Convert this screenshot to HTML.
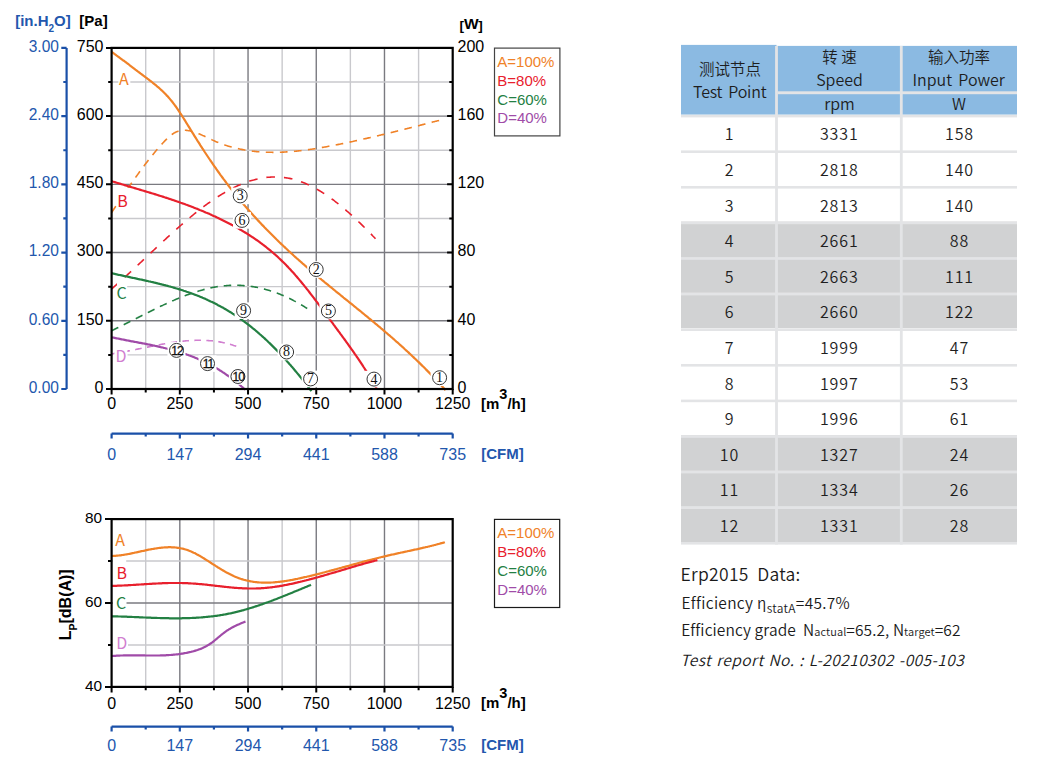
<!DOCTYPE html>
<html><head><meta charset="utf-8"><title>Fan performance curves</title>
<style>
html,body{margin:0;padding:0;background:#fff;}
body{width:1043px;height:762px;overflow:hidden;}
svg{display:block;}
</style></head><body>
<svg width="1043" height="762" viewBox="0 0 1043 762">
<rect width="1043" height="762" fill="#fff"/>
<line x1="145.71" y1="47.9" x2="145.71" y2="389" stroke="#c9c9cd" stroke-width="1.4"/>
<line x1="179.82" y1="47.9" x2="179.82" y2="389" stroke="#7a7a80" stroke-width="1.4"/>
<line x1="213.93" y1="47.9" x2="213.93" y2="389" stroke="#c9c9cd" stroke-width="1.4"/>
<line x1="248.04" y1="47.9" x2="248.04" y2="389" stroke="#7a7a80" stroke-width="1.4"/>
<line x1="282.15" y1="47.9" x2="282.15" y2="389" stroke="#c9c9cd" stroke-width="1.4"/>
<line x1="316.26" y1="47.9" x2="316.26" y2="389" stroke="#7a7a80" stroke-width="1.4"/>
<line x1="350.37" y1="47.9" x2="350.37" y2="389" stroke="#c9c9cd" stroke-width="1.4"/>
<line x1="384.48" y1="47.9" x2="384.48" y2="389" stroke="#7a7a80" stroke-width="1.4"/>
<line x1="418.59" y1="47.9" x2="418.59" y2="389" stroke="#c9c9cd" stroke-width="1.4"/>
<line x1="111.6" y1="354.89" x2="452.7" y2="354.89" stroke="#c9c9cd" stroke-width="1.4"/>
<line x1="111.6" y1="320.78" x2="452.7" y2="320.78" stroke="#7a7a80" stroke-width="1.4"/>
<line x1="111.6" y1="286.67" x2="452.7" y2="286.67" stroke="#c9c9cd" stroke-width="1.4"/>
<line x1="111.6" y1="252.56" x2="452.7" y2="252.56" stroke="#7a7a80" stroke-width="1.4"/>
<line x1="111.6" y1="218.45" x2="452.7" y2="218.45" stroke="#c9c9cd" stroke-width="1.4"/>
<line x1="111.6" y1="184.34" x2="452.7" y2="184.34" stroke="#7a7a80" stroke-width="1.4"/>
<line x1="111.6" y1="150.23" x2="452.7" y2="150.23" stroke="#c9c9cd" stroke-width="1.4"/>
<line x1="111.6" y1="116.12" x2="452.7" y2="116.12" stroke="#7a7a80" stroke-width="1.4"/>
<line x1="111.6" y1="82.01" x2="452.7" y2="82.01" stroke="#c9c9cd" stroke-width="1.4"/>
<rect x="118.6" y="80.51" width="11.6" height="3" fill="#fff"/>
<rect x="112.8" y="285.17" width="14.3" height="3" fill="#fff"/>
<rect x="112.8" y="353.39" width="14.5" height="3" fill="#fff"/>
<g fill="none" stroke-width="2.2" stroke-linecap="butt" stroke-linejoin="round">
<g stroke-width="1.6">
<path d="M111.6 212.5L112.6 211.0L113.6 209.5L114.6 208.0L115.6 206.5L116.6 205.0L117.6 203.5L118.6 202.0L119.6 200.5L120.6 199.0L121.6 197.5L122.6 196.1L123.6 194.6L124.6 193.1L125.6 191.7L126.6 190.2L127.6 188.8L128.6 187.3L129.6 185.9L130.6 184.4L131.6 183.0L132.6 181.6L133.6 180.2L134.6 178.8L135.6 177.4L136.6 176.0L137.6 174.6L138.6 173.2L139.6 171.8L140.6 170.5L141.6 169.1L142.6 167.8L143.6 166.5L144.6 165.1L145.6 163.8L146.6 162.5L147.6 161.2L148.6 159.9L149.6 158.7L150.6 157.4L151.6 156.2L152.6 154.9L153.6 153.7L154.6 152.5L155.6 151.3L156.6 150.1L157.6 148.9L158.6 147.8L159.6 146.6L160.6 145.5L161.6 144.4L162.6 143.3L163.6 142.2L164.6 141.1L165.6 140.1L166.6 139.1L167.6 138.1L168.6 137.2L169.6 136.3L170.6 135.5L171.6 134.7L172.6 134.0L173.6 133.3L174.6 132.8L175.6 132.2L176.6 131.8L177.6 131.4L178.6 131.0L179.6 130.8L180.6 130.6L181.6 130.4L182.6 130.3L183.6 130.3L184.6 130.3L185.6 130.3L186.6 130.4L187.6 130.5L188.6 130.7L189.6 130.8L190.6 131.1L191.6 131.3L192.6 131.6L193.6 131.9L194.6 132.2L195.6 132.5L196.6 132.9L197.6 133.3L198.6 133.7L199.6 134.1L200.6 134.5L201.6 134.9L202.6 135.4L203.6 135.8L204.6 136.3L205.6 136.8L206.6 137.2L207.6 137.7L208.6 138.2L209.6 138.7L210.6 139.2L211.6 139.6L212.6 140.1L213.6 140.6L214.6 141.0L215.6 141.5L216.6 141.9L217.6 142.3L218.6 142.7L219.6 143.1L220.6 143.5L221.6 143.9L222.6 144.3L223.6 144.6L224.6 144.9L225.6 145.3L226.6 145.6L227.6 145.9L228.6 146.2L229.6 146.5L230.6 146.8L231.6 147.1L232.6 147.4L233.6 147.6L234.6 147.9L235.6 148.1L236.6 148.3L237.6 148.6L238.6 148.8L239.6 149.0L240.6 149.2L241.6 149.4L242.6 149.6L243.6 149.8L244.6 150.0L245.6 150.1L246.6 150.3L247.6 150.5L248.6 150.6L249.6 150.8L250.6 150.9L251.6 151.0L252.6 151.2L253.6 151.3L254.6 151.4L255.6 151.5L256.6 151.6L257.6 151.7L258.6 151.8L259.6 151.8L260.6 151.9L261.6 152.0L262.6 152.0L263.6 152.1L264.6 152.1L265.6 152.2L266.6 152.2L267.6 152.3L268.6 152.3L269.6 152.3L270.6 152.3L271.6 152.3L272.6 152.4L273.6 152.4L274.6 152.3L275.6 152.3L276.6 152.3L277.6 152.3L278.6 152.3L279.6 152.3L280.6 152.2L281.6 152.2L282.6 152.1L283.6 152.1L284.6 152.0L285.6 152.0L286.6 151.9L287.6 151.9L288.6 151.8L289.6 151.7L290.6 151.6L291.6 151.6L292.6 151.5L293.6 151.4L294.6 151.3L295.6 151.2L296.6 151.1L297.6 151.0L298.6 150.9L299.6 150.8L300.6 150.7L301.6 150.5L302.6 150.4L303.6 150.3L304.6 150.2L305.6 150.0L306.6 149.9L307.6 149.8L308.6 149.6L309.6 149.5L310.6 149.3L311.6 149.2L312.6 149.0L313.6 148.9L314.6 148.7L315.6 148.6L316.6 148.4L317.6 148.2L318.6 148.1L319.6 147.9L320.6 147.7L321.6 147.6L322.6 147.4L323.6 147.2L324.6 147.0L325.6 146.9L326.6 146.7L327.6 146.5L328.6 146.3L329.6 146.1L330.6 145.9L331.6 145.7L332.6 145.5L333.6 145.4L334.6 145.2L335.6 145.0L336.6 144.8L337.6 144.6L338.6 144.4L339.6 144.2L340.6 144.0L341.6 143.8L342.6 143.6L343.6 143.4L344.6 143.2L345.6 142.9L346.6 142.7L347.6 142.5L348.6 142.3L349.6 142.1L350.6 141.9L351.6 141.7L352.6 141.5L353.6 141.2L354.6 141.0L355.6 140.8L356.6 140.6L357.6 140.4L358.6 140.2L359.6 139.9L360.6 139.7L361.6 139.5L362.6 139.3L363.6 139.0L364.6 138.8L365.6 138.6L366.6 138.4L367.6 138.1L368.6 137.9L369.6 137.7L370.6 137.4L371.6 137.2L372.6 137.0L373.6 136.7L374.6 136.5L375.6 136.3L376.6 136.0L377.6 135.8L378.6 135.6L379.6 135.3L380.6 135.1L381.6 134.8L382.6 134.6L383.6 134.4L384.6 134.1L385.6 133.9L386.6 133.6L387.6 133.4L388.6 133.1L389.6 132.9L390.6 132.7L391.6 132.4L392.6 132.2L393.6 131.9L394.6 131.7L395.6 131.4L396.6 131.2L397.6 130.9L398.6 130.7L399.6 130.4L400.6 130.2L401.6 129.9L402.6 129.7L403.6 129.4L404.6 129.2L405.6 128.9L406.6 128.7L407.6 128.4L408.6 128.2L409.6 127.9L410.6 127.7L411.6 127.4L412.6 127.2L413.6 126.9L414.6 126.7L415.6 126.4L416.6 126.2L417.6 125.9L418.6 125.7L419.6 125.4L420.6 125.1L421.6 124.9L422.6 124.6L423.6 124.4L424.6 124.1L425.6 123.9L426.6 123.6L427.6 123.4L428.6 123.1L429.6 122.9L430.6 122.6L431.6 122.4L432.6 122.1L433.6 121.8L434.6 121.6L435.6 121.3L436.6 121.1L437.6 120.8L438.6 120.6L439.6 120.3L440.6 120.1L441.6 119.8L442.2 119.7" stroke="#F08228" stroke-dasharray="7.7 6.4"/>
<path d="M111.6 288.9L112.6 288.1L113.6 287.2L114.6 286.3L115.6 285.4L116.6 284.6L117.6 283.7L118.6 282.8L119.6 281.9L120.6 281.0L121.6 280.1L122.6 279.2L123.6 278.3L124.6 277.4L125.6 276.5L126.6 275.5L127.6 274.6L128.6 273.7L129.6 272.8L130.6 271.8L131.6 270.9L132.6 270.0L133.6 269.1L134.6 268.1L135.6 267.2L136.6 266.3L137.6 265.3L138.6 264.4L139.6 263.4L140.6 262.5L141.6 261.6L142.6 260.6L143.6 259.7L144.6 258.7L145.6 257.8L146.6 256.9L147.6 255.9L148.6 255.0L149.6 254.0L150.6 253.1L151.6 252.1L152.6 251.2L153.6 250.3L154.6 249.3L155.6 248.4L156.6 247.4L157.6 246.5L158.6 245.6L159.6 244.6L160.6 243.7L161.6 242.8L162.6 241.8L163.6 240.9L164.6 240.0L165.6 239.1L166.6 238.1L167.6 237.2L168.6 236.3L169.6 235.4L170.6 234.5L171.6 233.6L172.6 232.7L173.6 231.8L174.6 230.9L175.6 230.0L176.6 229.1L177.6 228.2L178.6 227.3L179.6 226.4L180.6 225.5L181.6 224.7L182.6 223.8L183.6 222.9L184.6 222.1L185.6 221.2L186.6 220.4L187.6 219.5L188.6 218.7L189.6 217.8L190.6 217.0L191.6 216.2L192.6 215.3L193.6 214.5L194.6 213.7L195.6 212.9L196.6 212.1L197.6 211.3L198.6 210.5L199.6 209.7L200.6 209.0L201.6 208.2L202.6 207.4L203.6 206.7L204.6 205.9L205.6 205.2L206.6 204.5L207.6 203.7L208.6 203.0L209.6 202.3L210.6 201.6L211.6 200.9L212.6 200.2L213.6 199.5L214.6 198.8L215.6 198.2L216.6 197.5L217.6 196.9L218.6 196.2L219.6 195.6L220.6 195.0L221.6 194.4L222.6 193.7L223.6 193.2L224.6 192.6L225.6 192.0L226.6 191.4L227.6 190.9L228.6 190.3L229.6 189.8L230.6 189.2L231.6 188.7L232.6 188.2L233.6 187.7L234.6 187.2L235.6 186.7L236.6 186.3L237.6 185.8L238.6 185.3L239.6 184.9L240.6 184.5L241.6 184.1L242.6 183.7L243.6 183.3L244.6 182.9L245.6 182.5L246.6 182.2L247.6 181.8L248.6 181.5L249.6 181.1L250.6 180.8L251.6 180.5L252.6 180.2L253.6 180.0L254.6 179.7L255.6 179.4L256.6 179.2L257.6 179.0L258.6 178.7L259.6 178.5L260.6 178.3L261.6 178.2L262.6 178.0L263.6 177.8L264.6 177.7L265.6 177.6L266.6 177.4L267.6 177.3L268.6 177.2L269.6 177.2L270.6 177.1L271.6 177.0L272.6 177.0L273.6 177.0L274.6 177.0L275.6 177.0L276.6 177.0L277.6 177.0L278.6 177.0L279.6 177.1L280.6 177.2L281.6 177.2L282.6 177.3L283.6 177.5L284.6 177.6L285.6 177.7L286.6 177.9L287.6 178.0L288.6 178.2L289.6 178.4L290.6 178.6L291.6 178.8L292.6 179.1L293.6 179.3L294.6 179.6L295.6 179.9L296.6 180.2L297.6 180.5L298.6 180.8L299.6 181.2L300.6 181.5L301.6 181.9L302.6 182.3L303.6 182.7L304.6 183.1L305.6 183.5L306.6 184.0L307.6 184.4L308.6 184.9L309.6 185.3L310.6 185.8L311.6 186.3L312.6 186.8L313.6 187.4L314.6 187.9L315.6 188.4L316.6 189.0L317.6 189.6L318.6 190.2L319.6 190.8L320.6 191.4L321.6 192.0L322.6 192.6L323.6 193.3L324.6 193.9L325.6 194.6L326.6 195.2L327.6 195.9L328.6 196.6L329.6 197.3L330.6 198.0L331.6 198.8L332.6 199.5L333.6 200.2L334.6 201.0L335.6 201.8L336.6 202.5L337.6 203.3L338.6 204.1L339.6 204.9L340.6 205.7L341.6 206.5L342.6 207.4L343.6 208.2L344.6 209.0L345.6 209.9L346.6 210.8L347.6 211.6L348.6 212.5L349.6 213.4L350.6 214.3L351.6 215.2L352.6 216.1L353.6 217.0L354.6 217.9L355.6 218.9L356.6 219.8L357.6 220.8L358.6 221.7L359.6 222.7L360.6 223.6L361.6 224.6L362.6 225.6L363.6 226.6L364.6 227.5L365.6 228.5L366.6 229.5L367.6 230.5L368.6 231.6L369.6 232.6L370.6 233.6L371.6 234.6L372.6 235.7L373.6 236.7L374.6 237.7L375.5 238.7" stroke="#E8202D" stroke-dasharray="8.6 9"/>
<path d="M111.6 330.7L112.6 330.2L113.6 329.8L114.6 329.3L115.6 328.8L116.6 328.3L117.6 327.8L118.6 327.3L119.6 326.8L120.6 326.3L121.6 325.8L122.6 325.3L123.6 324.8L124.6 324.3L125.6 323.8L126.6 323.3L127.6 322.8L128.6 322.3L129.6 321.8L130.6 321.3L131.6 320.8L132.6 320.3L133.6 319.8L134.6 319.3L135.6 318.8L136.6 318.3L137.6 317.8L138.6 317.2L139.6 316.7L140.6 316.2L141.6 315.7L142.6 315.2L143.6 314.7L144.6 314.2L145.6 313.7L146.6 313.2L147.6 312.7L148.6 312.2L149.6 311.7L150.6 311.2L151.6 310.7L152.6 310.2L153.6 309.7L154.6 309.2L155.6 308.7L156.6 308.2L157.6 307.8L158.6 307.3L159.6 306.8L160.6 306.3L161.6 305.8L162.6 305.4L163.6 304.9L164.6 304.4L165.6 304.0L166.6 303.5L167.6 303.0L168.6 302.6L169.6 302.1L170.6 301.7L171.6 301.3L172.6 300.8L173.6 300.4L174.6 299.9L175.6 299.5L176.6 299.1L177.6 298.7L178.6 298.3L179.6 297.9L180.6 297.4L181.6 297.0L182.6 296.6L183.6 296.3L184.6 295.9L185.6 295.5L186.6 295.1L187.6 294.7L188.6 294.4L189.6 294.0L190.6 293.7L191.6 293.3L192.6 293.0L193.6 292.6L194.6 292.3L195.6 292.0L196.6 291.7L197.6 291.4L198.6 291.0L199.6 290.8L200.6 290.5L201.6 290.2L202.6 289.9L203.6 289.6L204.6 289.4L205.6 289.1L206.6 288.9L207.6 288.6L208.6 288.4L209.6 288.2L210.6 287.9L211.6 287.7L212.6 287.5L213.6 287.3L214.6 287.1L215.6 287.0L216.6 286.8L217.6 286.6L218.6 286.5L219.6 286.3L220.6 286.2L221.6 286.1L222.6 286.0L223.6 285.9L224.6 285.8L225.6 285.7L226.6 285.6L227.6 285.5L228.6 285.5L229.6 285.4L230.6 285.4L231.6 285.3L232.6 285.3L233.6 285.3L234.6 285.3L235.6 285.3L236.6 285.3L237.6 285.3L238.6 285.3L239.6 285.4L240.6 285.4L241.6 285.5L242.6 285.5L243.6 285.6L244.6 285.7L245.6 285.8L246.6 285.9L247.6 286.0L248.6 286.1L249.6 286.2L250.6 286.3L251.6 286.5L252.6 286.6L253.6 286.8L254.6 287.0L255.6 287.1L256.6 287.3L257.6 287.5L258.6 287.7L259.6 287.9L260.6 288.2L261.6 288.4L262.6 288.6L263.6 288.9L264.6 289.1L265.6 289.4L266.6 289.7L267.6 290.0L268.6 290.3L269.6 290.6L270.6 290.9L271.6 291.2L272.6 291.5L273.6 291.9L274.6 292.2L275.6 292.6L276.6 293.0L277.6 293.3L278.6 293.7L279.6 294.1L280.6 294.5L281.6 294.9L282.6 295.3L283.6 295.8L284.6 296.2L285.6 296.7L286.6 297.1L287.6 297.6L288.6 298.1L289.6 298.5L290.6 299.0L291.6 299.5L292.6 300.0L293.6 300.6L294.6 301.1L295.6 301.6L296.6 302.2L297.6 302.7L298.6 303.3L299.6 303.9L300.6 304.4L301.6 305.0L302.6 305.6L303.6 306.2L304.6 306.9L305.6 307.5L306.6 308.1L307.2 308.5" stroke="#238043" stroke-dasharray="7.5 6"/>
<path d="M111.6 353.9L112.6 353.7L113.6 353.6L114.6 353.4L115.6 353.3L116.6 353.1L117.6 352.9L118.6 352.8L119.6 352.6L120.6 352.4L121.6 352.3L122.6 352.1L123.6 351.9L124.6 351.7L125.6 351.5L126.6 351.3L127.6 351.1L128.6 350.9L129.6 350.8L130.6 350.6L131.6 350.4L132.6 350.2L133.6 350.0L134.6 349.8L135.6 349.6L136.6 349.3L137.6 349.1L138.6 348.9L139.6 348.7L140.6 348.5L141.6 348.3L142.6 348.1L143.6 347.9L144.6 347.7L145.6 347.5L146.6 347.3L147.6 347.1L148.6 346.9L149.6 346.7L150.6 346.5L151.6 346.3L152.6 346.1L153.6 345.9L154.6 345.7L155.6 345.5L156.6 345.3L157.6 345.1L158.6 344.9L159.6 344.7L160.6 344.5L161.6 344.3L162.6 344.1L163.6 344.0L164.6 343.8L165.6 343.6L166.6 343.4L167.6 343.3L168.6 343.1L169.6 342.9L170.6 342.8L171.6 342.6L172.6 342.5L173.6 342.3L174.6 342.2L175.6 342.0L176.6 341.9L177.6 341.8L178.6 341.7L179.6 341.5L180.6 341.4L181.6 341.3L182.6 341.2L183.6 341.1L184.6 341.0L185.6 340.9L186.6 340.8L187.6 340.7L188.6 340.7L189.6 340.6L190.6 340.5L191.6 340.5L192.6 340.4L193.6 340.4L194.6 340.4L195.6 340.3L196.6 340.3L197.6 340.3L198.6 340.3L199.6 340.3L200.6 340.3L201.6 340.3L202.6 340.3L203.6 340.3L204.6 340.4L205.6 340.4L206.6 340.5L207.6 340.5L208.6 340.6L209.6 340.7L210.6 340.7L211.6 340.8L212.6 340.9L213.6 341.1L214.6 341.2L215.6 341.3L216.6 341.4L217.6 341.6L218.6 341.7L219.6 341.9L220.6 342.1L221.6 342.3L222.6 342.5L223.6 342.7L224.6 342.9L225.6 343.1L226.6 343.4L227.6 343.6L228.6 343.9L229.6 344.2L230.6 344.4L231.6 344.7L232.6 345.0L233.6 345.4L234.6 345.7L235.6 346.0L236.6 346.4L237.5 346.7" stroke="#D17FD0" stroke-dasharray="6.6 5.4"/>
</g>
<path d="M111.4 51.8L112.4 52.5L113.4 53.2L114.4 53.9L115.4 54.6L116.4 55.4L117.4 56.1L118.4 56.8L119.4 57.5L120.4 58.3L121.4 59.0L122.4 59.8L123.4 60.5L124.4 61.2L125.4 62.0L126.4 62.7L127.4 63.5L128.4 64.2L129.4 65.0L130.4 65.8L131.4 66.5L132.4 67.3L133.4 68.0L134.4 68.8L135.4 69.6L136.4 70.3L137.4 71.1L138.4 71.8L139.4 72.6L140.4 73.4L141.4 74.1L142.4 74.9L143.4 75.7L144.4 76.4L145.4 77.2L146.4 77.9L147.4 78.7L148.4 79.4L149.4 80.2L150.4 81.0L151.4 81.7L152.4 82.5L153.4 83.3L154.4 84.1L155.4 84.9L156.4 85.7L157.4 86.6L158.4 87.4L159.4 88.3L160.4 89.2L161.4 90.1L162.4 91.0L163.4 92.0L164.4 93.0L165.4 94.0L166.4 95.1L167.4 96.1L168.4 97.2L169.4 98.4L170.4 99.6L171.4 100.8L172.4 102.0L173.4 103.3L174.4 104.7L175.4 106.0L176.4 107.4L177.4 108.9L178.4 110.4L179.4 111.8L180.4 113.4L181.4 114.9L182.4 116.5L183.4 118.0L184.4 119.6L185.4 121.2L186.4 122.9L187.4 124.5L188.4 126.1L189.4 127.7L190.4 129.3L191.4 131.0L192.4 132.6L193.4 134.2L194.4 135.8L195.4 137.4L196.4 139.0L197.4 140.6L198.4 142.1L199.4 143.7L200.4 145.3L201.4 146.8L202.4 148.4L203.4 149.9L204.4 151.5L205.4 153.0L206.4 154.5L207.4 156.0L208.4 157.5L209.4 159.0L210.4 160.5L211.4 161.9L212.4 163.4L213.4 164.9L214.4 166.3L215.4 167.7L216.4 169.2L217.4 170.6L218.4 172.0L219.4 173.4L220.4 174.8L221.4 176.1L222.4 177.5L223.4 178.9L224.4 180.2L225.4 181.5L226.4 182.9L227.4 184.2L228.4 185.5L229.4 186.8L230.4 188.1L231.4 189.3L232.4 190.6L233.4 191.9L234.4 193.1L235.4 194.4L236.4 195.6L237.4 196.8L238.4 198.1L239.4 199.3L240.4 200.5L241.4 201.7L242.4 202.9L243.4 204.0L244.4 205.2L245.4 206.4L246.4 207.5L247.4 208.7L248.4 209.8L249.4 210.9L250.4 212.1L251.4 213.2L252.4 214.3L253.4 215.4L254.4 216.5L255.4 217.6L256.4 218.7L257.4 219.8L258.4 220.9L259.4 221.9L260.4 223.0L261.4 224.1L262.4 225.1L263.4 226.1L264.4 227.2L265.4 228.2L266.4 229.3L267.4 230.3L268.4 231.3L269.4 232.3L270.4 233.3L271.4 234.3L272.4 235.3L273.4 236.3L274.4 237.3L275.4 238.3L276.4 239.3L277.4 240.2L278.4 241.2L279.4 242.2L280.4 243.1L281.4 244.1L282.4 245.0L283.4 246.0L284.4 246.9L285.4 247.9L286.4 248.8L287.4 249.7L288.4 250.7L289.4 251.6L290.4 252.5L291.4 253.4L292.4 254.3L293.4 255.3L294.4 256.2L295.4 257.1L296.4 258.0L297.4 258.8L298.4 259.7L299.4 260.6L300.4 261.5L301.4 262.4L302.4 263.3L303.4 264.1L304.4 265.0L305.4 265.9L306.4 266.8L307.4 267.6L308.4 268.5L309.4 269.3L310.4 270.2L311.4 271.1L312.4 271.9L313.4 272.8L314.4 273.6L315.4 274.4L316.4 275.3L317.4 276.1L318.4 277.0L319.4 277.8L320.4 278.6L321.4 279.5L322.4 280.3L323.4 281.1L324.4 282.0L325.4 282.8L326.4 283.6L327.4 284.4L328.4 285.2L329.4 286.1L330.4 286.9L331.4 287.7L332.4 288.5L333.4 289.3L334.4 290.2L335.4 291.0L336.4 291.8L337.4 292.6L338.4 293.4L339.4 294.2L340.4 295.0L341.4 295.8L342.4 296.6L343.4 297.5L344.4 298.3L345.4 299.1L346.4 299.9L347.4 300.7L348.4 301.5L349.4 302.3L350.4 303.1L351.4 303.9L352.4 304.7L353.4 305.5L354.4 306.4L355.4 307.2L356.4 308.0L357.4 308.8L358.4 309.6L359.4 310.4L360.4 311.2L361.4 312.0L362.4 312.9L363.4 313.7L364.4 314.5L365.4 315.3L366.4 316.1L367.4 316.9L368.4 317.8L369.4 318.6L370.4 319.4L371.4 320.2L372.4 321.1L373.4 321.9L374.4 322.7L375.4 323.6L376.4 324.4L377.4 325.2L378.4 326.1L379.4 326.9L380.4 327.7L381.4 328.6L382.4 329.4L383.4 330.3L384.4 331.1L385.4 332.0L386.4 332.8L387.4 333.7L388.4 334.6L389.4 335.4L390.4 336.3L391.4 337.2L392.4 338.0L393.4 338.9L394.4 339.8L395.4 340.7L396.4 341.6L397.4 342.4L398.4 343.3L399.4 344.2L400.4 345.1L401.4 346.0L402.4 346.9L403.4 347.8L404.4 348.8L405.4 349.7L406.4 350.6L407.4 351.5L408.4 352.4L409.4 353.4L410.4 354.3L411.4 355.2L412.4 356.2L413.4 357.1L414.4 358.1L415.4 359.0L416.4 360.0L417.4 361.0L418.4 361.9L419.4 362.9L420.4 363.9L421.4 364.9L422.4 365.9L423.4 366.8L424.4 367.8L425.4 368.8L426.4 369.9L427.4 370.9L428.4 371.9L429.4 372.9L430.4 373.9L431.4 375.0L432.4 376.0L433.4 377.1L434.4 378.1L435.4 379.2L436.4 380.2L437.4 381.3L438.4 382.4L439.4 383.5L440.4 384.5L441.4 385.6L442.4 386.7L443.4 387.8L444.4 389.0L445.4 390.1L445.5 390.2" stroke="#F08228"/>
<path d="M111.6 181.1L112.6 181.5L113.6 181.8L114.6 182.1L115.6 182.4L116.6 182.7L117.6 183.0L118.6 183.3L119.6 183.6L120.6 183.9L121.6 184.2L122.6 184.5L123.6 184.8L124.6 185.1L125.6 185.4L126.6 185.7L127.6 186.0L128.6 186.3L129.6 186.6L130.6 186.9L131.6 187.2L132.6 187.5L133.6 187.8L134.6 188.1L135.6 188.4L136.6 188.7L137.6 189.0L138.6 189.3L139.6 189.6L140.6 189.9L141.6 190.2L142.6 190.5L143.6 190.8L144.6 191.1L145.6 191.4L146.6 191.7L147.6 192.0L148.6 192.3L149.6 192.6L150.6 192.9L151.6 193.2L152.6 193.5L153.6 193.8L154.6 194.1L155.6 194.4L156.6 194.7L157.6 195.0L158.6 195.4L159.6 195.7L160.6 196.0L161.6 196.3L162.6 196.6L163.6 196.9L164.6 197.3L165.6 197.6L166.6 197.9L167.6 198.2L168.6 198.6L169.6 198.9L170.6 199.2L171.6 199.6L172.6 199.9L173.6 200.2L174.6 200.6L175.6 200.9L176.6 201.3L177.6 201.6L178.6 202.0L179.6 202.3L180.6 202.7L181.6 203.0L182.6 203.4L183.6 203.7L184.6 204.1L185.6 204.5L186.6 204.8L187.6 205.2L188.6 205.6L189.6 205.9L190.6 206.3L191.6 206.7L192.6 207.1L193.6 207.5L194.6 207.9L195.6 208.3L196.6 208.6L197.6 209.0L198.6 209.4L199.6 209.9L200.6 210.3L201.6 210.7L202.6 211.1L203.6 211.5L204.6 211.9L205.6 212.4L206.6 212.8L207.6 213.2L208.6 213.6L209.6 214.1L210.6 214.5L211.6 215.0L212.6 215.4L213.6 215.9L214.6 216.3L215.6 216.8L216.6 217.3L217.6 217.7L218.6 218.2L219.6 218.7L220.6 219.2L221.6 219.7L222.6 220.2L223.6 220.7L224.6 221.2L225.6 221.7L226.6 222.2L227.6 222.7L228.6 223.2L229.6 223.7L230.6 224.2L231.6 224.8L232.6 225.3L233.6 225.9L234.6 226.4L235.6 227.0L236.6 227.5L237.6 228.1L238.6 228.6L239.6 229.2L240.6 229.8L241.6 230.4L242.6 231.0L243.6 231.6L244.6 232.2L245.6 232.8L246.6 233.4L247.6 234.0L248.6 234.7L249.6 235.3L250.6 236.0L251.6 236.6L252.6 237.3L253.6 237.9L254.6 238.6L255.6 239.3L256.6 240.0L257.6 240.7L258.6 241.4L259.6 242.1L260.6 242.9L261.6 243.6L262.6 244.4L263.6 245.1L264.6 245.9L265.6 246.7L266.6 247.5L267.6 248.3L268.6 249.1L269.6 249.9L270.6 250.7L271.6 251.6L272.6 252.4L273.6 253.3L274.6 254.1L275.6 255.0L276.6 255.9L277.6 256.8L278.6 257.8L279.6 258.7L280.6 259.6L281.6 260.6L282.6 261.6L283.6 262.5L284.6 263.5L285.6 264.5L286.6 265.6L287.6 266.6L288.6 267.7L289.6 268.7L290.6 269.8L291.6 270.9L292.6 272.0L293.6 273.1L294.6 274.2L295.6 275.4L296.6 276.5L297.6 277.7L298.6 278.9L299.6 280.1L300.6 281.3L301.6 282.5L302.6 283.7L303.6 284.9L304.6 286.2L305.6 287.4L306.6 288.7L307.6 289.9L308.6 291.2L309.6 292.5L310.6 293.8L311.6 295.1L312.6 296.4L313.6 297.7L314.6 299.0L315.6 300.3L316.6 301.6L317.6 302.9L318.6 304.3L319.6 305.6L320.6 307.0L321.6 308.3L322.6 309.6L323.6 311.0L324.6 312.3L325.6 313.7L326.6 315.1L327.6 316.4L328.6 317.8L329.6 319.1L330.6 320.5L331.6 321.9L332.6 323.2L333.6 324.6L334.6 325.9L335.6 327.3L336.6 328.7L337.6 330.0L338.6 331.4L339.6 332.7L340.6 334.1L341.6 335.4L342.6 336.8L343.6 338.2L344.6 339.5L345.6 340.9L346.6 342.3L347.6 343.7L348.6 345.1L349.6 346.5L350.6 347.9L351.6 349.3L352.6 350.7L353.6 352.1L354.6 353.6L355.6 355.0L356.6 356.5L357.6 357.9L358.6 359.4L359.6 360.9L360.6 362.4L361.6 363.9L362.6 365.4L363.6 367.0L364.6 368.5L365.6 370.1L366.6 371.7L367.6 373.3L368.6 374.9L369.6 376.5L370.6 378.2L371.6 379.8L372.6 381.5L373.6 383.2L374.6 385.0L375.6 386.7L376.6 388.5L377.0 389.2" stroke="#E8202D"/>
<path d="M111.6 273.2L112.6 273.4L113.6 273.7L114.6 273.9L115.6 274.1L116.6 274.3L117.6 274.6L118.6 274.8L119.6 275.0L120.6 275.2L121.6 275.4L122.6 275.6L123.6 275.9L124.6 276.1L125.6 276.3L126.6 276.5L127.6 276.7L128.6 276.9L129.6 277.1L130.6 277.4L131.6 277.6L132.6 277.8L133.6 278.0L134.6 278.2L135.6 278.4L136.6 278.6L137.6 278.9L138.6 279.1L139.6 279.3L140.6 279.5L141.6 279.7L142.6 279.9L143.6 280.2L144.6 280.4L145.6 280.6L146.6 280.8L147.6 281.0L148.6 281.3L149.6 281.5L150.6 281.7L151.6 282.0L152.6 282.2L153.6 282.4L154.6 282.7L155.6 282.9L156.6 283.1L157.6 283.4L158.6 283.6L159.6 283.9L160.6 284.1L161.6 284.4L162.6 284.6L163.6 284.9L164.6 285.1L165.6 285.4L166.6 285.7L167.6 285.9L168.6 286.2L169.6 286.5L170.6 286.7L171.6 287.0L172.6 287.3L173.6 287.6L174.6 287.9L175.6 288.2L176.6 288.5L177.6 288.8L178.6 289.1L179.6 289.4L180.6 289.7L181.6 290.0L182.6 290.3L183.6 290.7L184.6 291.0L185.6 291.3L186.6 291.7L187.6 292.0L188.6 292.4L189.6 292.7L190.6 293.1L191.6 293.4L192.6 293.8L193.6 294.2L194.6 294.6L195.6 294.9L196.6 295.3L197.6 295.7L198.6 296.1L199.6 296.5L200.6 296.9L201.6 297.3L202.6 297.8L203.6 298.2L204.6 298.6L205.6 299.1L206.6 299.5L207.6 300.0L208.6 300.4L209.6 300.9L210.6 301.4L211.6 301.8L212.6 302.3L213.6 302.8L214.6 303.3L215.6 303.8L216.6 304.3L217.6 304.9L218.6 305.4L219.6 305.9L220.6 306.5L221.6 307.0L222.6 307.6L223.6 308.1L224.6 308.7L225.6 309.3L226.6 309.9L227.6 310.5L228.6 311.1L229.6 311.7L230.6 312.3L231.6 312.9L232.6 313.6L233.6 314.2L234.6 314.8L235.6 315.5L236.6 316.2L237.6 316.9L238.6 317.5L239.6 318.2L240.6 318.9L241.6 319.7L242.6 320.4L243.6 321.1L244.6 321.8L245.6 322.6L246.6 323.3L247.6 324.1L248.6 324.9L249.6 325.7L250.6 326.5L251.6 327.2L252.6 328.1L253.6 328.9L254.6 329.7L255.6 330.5L256.6 331.4L257.6 332.2L258.6 333.1L259.6 334.0L260.6 334.8L261.6 335.7L262.6 336.6L263.6 337.5L264.6 338.4L265.6 339.4L266.6 340.3L267.6 341.2L268.6 342.2L269.6 343.1L270.6 344.1L271.6 345.1L272.6 346.1L273.6 347.1L274.6 348.1L275.6 349.1L276.6 350.1L277.6 351.1L278.6 352.2L279.6 353.2L280.6 354.3L281.6 355.3L282.6 356.4L283.6 357.5L284.6 358.6L285.6 359.7L286.6 360.8L287.6 361.9L288.6 363.0L289.6 364.2L290.6 365.3L291.6 366.5L292.6 367.6L293.6 368.8L294.6 370.0L295.6 371.2L296.6 372.4L297.6 373.6L298.6 374.8L299.6 376.0L300.6 377.3L301.6 378.5L302.6 379.8L303.6 381.0L304.6 382.3L305.6 383.6L306.6 384.9L307.6 386.2L308.6 387.5L309.6 388.8L310.6 390.1L311.4 391.2" stroke="#238043"/>
<path d="M111.6 337.3L112.6 337.5L113.6 337.7L114.6 337.9L115.6 338.1L116.6 338.3L117.6 338.5L118.6 338.7L119.6 338.9L120.6 339.1L121.6 339.3L122.6 339.5L123.6 339.7L124.6 339.9L125.6 340.1L126.6 340.3L127.6 340.5L128.6 340.7L129.6 340.9L130.6 341.1L131.6 341.3L132.6 341.4L133.6 341.6L134.6 341.8L135.6 342.0L136.6 342.2L137.6 342.4L138.6 342.6L139.6 342.8L140.6 342.9L141.6 343.1L142.6 343.3L143.6 343.5L144.6 343.7L145.6 343.9L146.6 344.1L147.6 344.3L148.6 344.5L149.6 344.7L150.6 344.9L151.6 345.1L152.6 345.3L153.6 345.5L154.6 345.7L155.6 346.0L156.6 346.2L157.6 346.4L158.6 346.6L159.6 346.8L160.6 347.1L161.6 347.3L162.6 347.5L163.6 347.8L164.6 348.0L165.6 348.3L166.6 348.5L167.6 348.8L168.6 349.0L169.6 349.3L170.6 349.6L171.6 349.8L172.6 350.1L173.6 350.4L174.6 350.7L175.6 350.9L176.6 351.2L177.6 351.5L178.6 351.8L179.6 352.1L180.6 352.5L181.6 352.8L182.6 353.1L183.6 353.4L184.6 353.8L185.6 354.1L186.6 354.5L187.6 354.8L188.6 355.2L189.6 355.5L190.6 355.9L191.6 356.3L192.6 356.7L193.6 357.1L194.6 357.5L195.6 357.9L196.6 358.3L197.6 358.7L198.6 359.2L199.6 359.6L200.6 360.1L201.6 360.5L202.6 361.0L203.6 361.4L204.6 361.9L205.6 362.4L206.6 362.9L207.6 363.4L208.6 363.9L209.6 364.4L210.6 365.0L211.6 365.5L212.6 366.1L213.6 366.6L214.6 367.2L215.6 367.8L216.6 368.3L217.6 368.9L218.6 369.5L219.6 370.2L220.6 370.8L221.6 371.4L222.6 372.1L223.6 372.7L224.6 373.4L225.6 374.1L226.6 374.8L227.6 375.5L228.6 376.2L229.6 376.9L230.6 377.6L231.6 378.4L232.6 379.1L233.6 379.9L234.6 380.7L235.6 381.5L236.6 382.3L237.6 383.1L238.6 383.9L239.6 384.7L240.6 385.6L241.6 386.5L242.6 387.3L243.6 388.2L244.6 389.1L245.3 389.8" stroke="#A04BA8"/>
</g>
<rect x="111.6" y="47.9" width="341.1" height="341.1" fill="none" stroke="#000" stroke-width="2.2"/>
<path d="M106 389H111.6 M108.2 354.89H111.6 M449.3 354.89H452.7 M106 320.78H111.6 M447.1 320.78H452.7 M108.2 286.67H111.6 M449.3 286.67H452.7 M106 252.56H111.6 M447.1 252.56H452.7 M108.2 218.45H111.6 M449.3 218.45H452.7 M106 184.34H111.6 M447.1 184.34H452.7 M108.2 150.23H111.6 M449.3 150.23H452.7 M106 116.12H111.6 M447.1 116.12H452.7 M108.2 82.01H111.6 M449.3 82.01H452.7 M106 47.9H111.6 M111.6 389V394.6 M145.71 389V392.4 M179.82 389V394.6 M213.93 389V392.4 M248.04 389V394.6 M282.15 389V392.4 M316.26 389V394.6 M350.37 389V392.4 M384.48 389V394.6 M418.59 389V392.4 M452.7 389V394.6" stroke="#000" stroke-width="2" fill="none"/>
<rect x="118.6" y="70" width="11.6" height="17.5" fill="#fff"/>
<text x="118.9" y="84.9" fill="#F08228" font-family="'Noto Sans CJK SC', 'Liberation Sans', sans-serif" font-size="16">A</text>
<rect x="116.6" y="187.9" width="12.6" height="22.1" fill="#fff"/>
<text x="117.2" y="206.6" fill="#E8202D" font-family="'Noto Sans CJK SC', 'Liberation Sans', sans-serif" font-size="16">B</text>
<rect x="117" y="280.3" width="10.1" height="20.7" fill="#fff"/>
<text x="116.4" y="298.6" fill="#238043" font-family="'Noto Sans CJK SC', 'Liberation Sans', sans-serif" font-size="16">C</text>
<rect x="114.4" y="349.2" width="13" height="14.8" fill="#fff"/>
<text x="115.5" y="361.9" fill="#D17FD0" font-family="'Noto Sans CJK SC', 'Liberation Sans', sans-serif" font-size="16">D</text>
<rect x="430.6" y="369.4" width="18" height="16.6" fill="#fff"/>
<circle cx="439.6" cy="377.7" r="7" fill="none" stroke="#2a2a2a" stroke-width="0.95"/>
<text x="439.6" y="382.1" font-family="'Liberation Serif', serif" font-size="14" text-anchor="middle" fill="#111">1</text>
<rect x="307.2" y="261.2" width="18" height="16.6" fill="#fff"/>
<circle cx="316.2" cy="269.5" r="7" fill="none" stroke="#2a2a2a" stroke-width="0.95"/>
<text x="316.2" y="273.9" font-family="'Liberation Serif', serif" font-size="14" text-anchor="middle" fill="#111">2</text>
<rect x="231.2" y="187.6" width="18" height="16.6" fill="#fff"/>
<circle cx="240.2" cy="195.9" r="7" fill="none" stroke="#2a2a2a" stroke-width="0.95"/>
<text x="240.2" y="200.3" font-family="'Liberation Serif', serif" font-size="14" text-anchor="middle" fill="#111">3</text>
<rect x="365" y="370.8" width="18" height="16.6" fill="#fff"/>
<circle cx="374" cy="379.1" r="7" fill="none" stroke="#2a2a2a" stroke-width="0.95"/>
<text x="374" y="383.5" font-family="'Liberation Serif', serif" font-size="14" text-anchor="middle" fill="#111">4</text>
<rect x="319.4" y="302.7" width="18" height="16.6" fill="#fff"/>
<circle cx="328.4" cy="311" r="7" fill="none" stroke="#2a2a2a" stroke-width="0.95"/>
<text x="328.4" y="315.4" font-family="'Liberation Serif', serif" font-size="14" text-anchor="middle" fill="#111">5</text>
<rect x="233" y="212.1" width="18" height="16.6" fill="#fff"/>
<circle cx="242" cy="220.4" r="7" fill="none" stroke="#2a2a2a" stroke-width="0.95"/>
<text x="242" y="224.8" font-family="'Liberation Serif', serif" font-size="14" text-anchor="middle" fill="#111">6</text>
<rect x="301.6" y="370.6" width="18" height="16.6" fill="#fff"/>
<circle cx="310.6" cy="378.9" r="7" fill="none" stroke="#2a2a2a" stroke-width="0.95"/>
<text x="310.6" y="383.3" font-family="'Liberation Serif', serif" font-size="14" text-anchor="middle" fill="#111">7</text>
<rect x="277.6" y="343.7" width="18" height="16.6" fill="#fff"/>
<circle cx="286.6" cy="352" r="7" fill="none" stroke="#2a2a2a" stroke-width="0.95"/>
<text x="286.6" y="356.4" font-family="'Liberation Serif', serif" font-size="14" text-anchor="middle" fill="#111">8</text>
<rect x="234.6" y="302.4" width="18" height="16.6" fill="#fff"/>
<circle cx="243.6" cy="310.7" r="7" fill="none" stroke="#2a2a2a" stroke-width="0.95"/>
<text x="243.6" y="315.1" font-family="'Liberation Serif', serif" font-size="14" text-anchor="middle" fill="#111">9</text>
<rect x="228.9" y="368.2" width="18" height="16.6" fill="#fff"/>
<circle cx="237.9" cy="376.5" r="7" fill="none" stroke="#2a2a2a" stroke-width="0.95"/>
<text x="238.3" y="380.8" font-family="'Liberation Sans', Arial, sans-serif" font-size="12" text-anchor="middle" letter-spacing="-1" fill="#111" stroke="#111" stroke-width="0.3">10</text>
<rect x="198.5" y="355.3" width="18" height="16.6" fill="#fff"/>
<circle cx="207.5" cy="363.6" r="7" fill="none" stroke="#2a2a2a" stroke-width="0.95"/>
<text x="207.9" y="367.9" font-family="'Liberation Sans', Arial, sans-serif" font-size="12" text-anchor="middle" letter-spacing="-1" fill="#111" stroke="#111" stroke-width="0.3">11</text>
<rect x="167.5" y="342.1" width="18" height="16.6" fill="#fff"/>
<circle cx="176.5" cy="350.4" r="7" fill="none" stroke="#2a2a2a" stroke-width="0.95"/>
<text x="176.9" y="354.7" font-family="'Liberation Sans', Arial, sans-serif" font-size="12" text-anchor="middle" letter-spacing="-1" fill="#111" stroke="#111" stroke-width="0.3">12</text>
<g font-family="'Liberation Sans', Arial, sans-serif" font-size="16" text-anchor="end" fill="#000">
<text x="103.5" y="392.8">0</text>
<text x="103.5" y="324.58">150</text>
<text x="103.5" y="256.36">300</text>
<text x="103.5" y="188.14">450</text>
<text x="103.5" y="119.92">600</text>
<text x="103.5" y="51.7">750</text>
</g>
<g font-family="'Liberation Sans', Arial, sans-serif" font-size="16" fill="#000">
<text x="457.5" y="392.8">0</text>
<text x="457.5" y="324.58">40</text>
<text x="457.5" y="256.36">80</text>
<text x="457.5" y="188.14">120</text>
<text x="457.5" y="119.92">160</text>
<text x="457.5" y="51.7">200</text>
</g>
<path d="M66.6 47.9V389 M61.3 389H66.6 M63.3 354.89H66.6 M61.3 320.78H66.6 M63.3 286.67H66.6 M61.3 252.56H66.6 M63.3 218.45H66.6 M61.3 184.34H66.6 M63.3 150.23H66.6 M61.3 116.12H66.6 M63.3 82.01H66.6 M61.3 47.9H66.6" stroke="#1A50A8" stroke-width="2.2" fill="none"/>
<g font-family="'Liberation Sans', Arial, sans-serif" font-size="16" text-anchor="end" fill="#2257AD">
<text x="58.9" y="392.8" textLength="30.2" lengthAdjust="spacingAndGlyphs">0.00</text>
<text x="58.9" y="324.58" textLength="30.2" lengthAdjust="spacingAndGlyphs">0.60</text>
<text x="58.9" y="256.36" textLength="30.2" lengthAdjust="spacingAndGlyphs">1.20</text>
<text x="58.9" y="188.14" textLength="30.2" lengthAdjust="spacingAndGlyphs">1.80</text>
<text x="58.9" y="119.92" textLength="30.2" lengthAdjust="spacingAndGlyphs">2.40</text>
<text x="58.9" y="51.7" textLength="30.2" lengthAdjust="spacingAndGlyphs">3.00</text>
</g>
<text x="15.2" y="25.8" font-family="'Liberation Sans', Arial, sans-serif" font-size="15" font-weight="bold" fill="#2257AD">[in.H<tspan font-size="10" dy="6">2</tspan><tspan dy="-6">O]</tspan></text>
<text x="79.3" y="25.8" font-family="'Liberation Sans', Arial, sans-serif" font-size="15" font-weight="bold" fill="#000">[Pa]</text>
<text x="459.6" y="30" font-family="'Liberation Sans', Arial, sans-serif" font-size="13.5" font-weight="bold" fill="#000">[<tspan font-size="15.5" dy="-0.6" letter-spacing="-0.6">W</tspan><tspan dy="0.6">]</tspan></text>
<g font-family="'Liberation Sans', Arial, sans-serif" font-size="16" text-anchor="middle" fill="#000">
<text x="111.6" y="409.2">0</text>
<text x="179.82" y="409.2">250</text>
<text x="248.04" y="409.2">500</text>
<text x="316.26" y="409.2">750</text>
<text x="384.48" y="409.2">1000</text>
<text x="452.7" y="409.2">1250</text>
</g>
<text x="481" y="408.5" font-family="'Liberation Sans', Arial, sans-serif" font-size="15" font-weight="bold" fill="#000">[m<tspan font-size="14.5" dy="-9.8">3</tspan><tspan dy="9.8">/h]</tspan></text>
<path d="M111.6 433.6H452.7 M111.6 433.6V438.6 M145.71 433.6V436.6 M179.82 433.6V438.6 M213.93 433.6V436.6 M248.04 433.6V438.6 M282.15 433.6V436.6 M316.26 433.6V438.6 M350.37 433.6V436.6 M384.48 433.6V438.6 M418.59 433.6V436.6 M452.7 433.6V438.6" stroke="#1A50A8" stroke-width="2.2" fill="none"/>
<g font-family="'Liberation Sans', Arial, sans-serif" font-size="16" text-anchor="middle" fill="#2257AD">
<text x="111.6" y="459.8">0</text>
<text x="179.82" y="459.8">147</text>
<text x="248.04" y="459.8">294</text>
<text x="316.26" y="459.8">441</text>
<text x="384.48" y="459.8">588</text>
<text x="452.7" y="459.8">735</text>
</g>
<text x="481.3" y="458.7" font-family="'Liberation Sans', Arial, sans-serif" font-size="15" font-weight="bold" fill="#2257AD">[CFM]</text>
<rect x="494.5" y="48.1" width="65.4" height="87.8" fill="#fff" stroke="#444" stroke-width="1.2"/>
<g font-family="'Liberation Sans', Arial, sans-serif" font-size="15">
<text x="497.3" y="67.2" fill="#F08228">A=100%</text>
<text x="497.3" y="85.9" fill="#E8202D">B=80%</text>
<text x="497.3" y="104.6" fill="#238043">C=60%</text>
<text x="497.3" y="123.3" fill="#A04BA8">D=40%</text>
</g>
<line x1="145.71" y1="519.1" x2="145.71" y2="686.9" stroke="#c9c9cd" stroke-width="1.4"/>
<line x1="179.82" y1="519.1" x2="179.82" y2="686.9" stroke="#7a7a80" stroke-width="1.4"/>
<line x1="213.93" y1="519.1" x2="213.93" y2="686.9" stroke="#c9c9cd" stroke-width="1.4"/>
<line x1="248.04" y1="519.1" x2="248.04" y2="686.9" stroke="#7a7a80" stroke-width="1.4"/>
<line x1="282.15" y1="519.1" x2="282.15" y2="686.9" stroke="#c9c9cd" stroke-width="1.4"/>
<line x1="316.26" y1="519.1" x2="316.26" y2="686.9" stroke="#7a7a80" stroke-width="1.4"/>
<line x1="350.37" y1="519.1" x2="350.37" y2="686.9" stroke="#c9c9cd" stroke-width="1.4"/>
<line x1="384.48" y1="519.1" x2="384.48" y2="686.9" stroke="#7a7a80" stroke-width="1.4"/>
<line x1="418.59" y1="519.1" x2="418.59" y2="686.9" stroke="#c9c9cd" stroke-width="1.4"/>
<line x1="111.6" y1="644.95" x2="452.7" y2="644.95" stroke="#c9c9cd" stroke-width="1.4"/>
<line x1="111.6" y1="603" x2="452.7" y2="603" stroke="#7a7a80" stroke-width="1.4"/>
<line x1="111.6" y1="561.05" x2="452.7" y2="561.05" stroke="#c9c9cd" stroke-width="1.4"/>
<rect x="112.8" y="559.55" width="13.4" height="3" fill="#fff"/>
<rect x="112.8" y="601.5" width="13.5" height="3" fill="#fff"/>
<rect x="112.8" y="643.45" width="15.2" height="3" fill="#fff"/>
<g fill="none" stroke-width="2.2" stroke-linejoin="round">
<path d="M111.6 556.0L112.6 556.0L113.6 555.9L114.6 555.9L115.6 555.8L116.6 555.7L117.6 555.6L118.6 555.5L119.6 555.4L120.6 555.3L121.6 555.1L122.6 555.0L123.6 554.8L124.6 554.7L125.6 554.5L126.6 554.3L127.6 554.2L128.6 554.0L129.6 553.8L130.6 553.6L131.6 553.4L132.6 553.2L133.6 553.0L134.6 552.7L135.6 552.5L136.6 552.3L137.6 552.1L138.6 551.9L139.6 551.7L140.6 551.4L141.6 551.2L142.6 551.0L143.6 550.8L144.6 550.6L145.6 550.3L146.6 550.1L147.6 549.9L148.6 549.7L149.6 549.5L150.6 549.3L151.6 549.1L152.6 549.0L153.6 548.8L154.6 548.6L155.6 548.5L156.6 548.3L157.6 548.2L158.6 548.0L159.6 547.9L160.6 547.8L161.6 547.7L162.6 547.6L163.6 547.5L164.6 547.4L165.6 547.3L166.6 547.3L167.6 547.3L168.6 547.2L169.6 547.2L170.6 547.2L171.6 547.3L172.6 547.3L173.6 547.4L174.6 547.4L175.6 547.5L176.6 547.6L177.6 547.8L178.6 547.9L179.6 548.1L180.6 548.3L181.6 548.5L182.6 548.7L183.6 548.9L184.6 549.2L185.6 549.5L186.6 549.8L187.6 550.1L188.6 550.5L189.6 550.9L190.6 551.3L191.6 551.7L192.6 552.2L193.6 552.7L194.6 553.1L195.6 553.6L196.6 554.2L197.6 554.7L198.6 555.3L199.6 555.8L200.6 556.4L201.6 557.0L202.6 557.6L203.6 558.2L204.6 558.8L205.6 559.5L206.6 560.1L207.6 560.7L208.6 561.4L209.6 562.0L210.6 562.7L211.6 563.3L212.6 564.0L213.6 564.6L214.6 565.2L215.6 565.9L216.6 566.5L217.6 567.2L218.6 567.8L219.6 568.4L220.6 569.0L221.6 569.6L222.6 570.2L223.6 570.8L224.6 571.4L225.6 572.0L226.6 572.5L227.6 573.1L228.6 573.6L229.6 574.1L230.6 574.6L231.6 575.1L232.6 575.6L233.6 576.1L234.6 576.5L235.6 576.9L236.6 577.3L237.6 577.7L238.6 578.1L239.6 578.4L240.6 578.8L241.6 579.1L242.6 579.4L243.6 579.7L244.6 580.0L245.6 580.2L246.6 580.5L247.6 580.7L248.6 580.9L249.6 581.1L250.6 581.3L251.6 581.5L252.6 581.7L253.6 581.8L254.6 582.0L255.6 582.1L256.6 582.2L257.6 582.3L258.6 582.4L259.6 582.5L260.6 582.5L261.6 582.6L262.6 582.6L263.6 582.6L264.6 582.7L265.6 582.7L266.6 582.7L267.6 582.7L268.6 582.6L269.6 582.6L270.6 582.6L271.6 582.5L272.6 582.5L273.6 582.4L274.6 582.3L275.6 582.2L276.6 582.1L277.6 582.0L278.6 581.9L279.6 581.8L280.6 581.7L281.6 581.6L282.6 581.4L283.6 581.3L284.6 581.1L285.6 581.0L286.6 580.8L287.6 580.7L288.6 580.5L289.6 580.3L290.6 580.1L291.6 580.0L292.6 579.8L293.6 579.6L294.6 579.4L295.6 579.2L296.6 579.0L297.6 578.8L298.6 578.5L299.6 578.3L300.6 578.1L301.6 577.9L302.6 577.7L303.6 577.4L304.6 577.2L305.6 577.0L306.6 576.8L307.6 576.5L308.6 576.3L309.6 576.1L310.6 575.8L311.6 575.6L312.6 575.3L313.6 575.1L314.6 574.8L315.6 574.6L316.6 574.3L317.6 574.1L318.6 573.8L319.6 573.6L320.6 573.3L321.6 573.1L322.6 572.8L323.6 572.5L324.6 572.3L325.6 572.0L326.6 571.7L327.6 571.5L328.6 571.2L329.6 570.9L330.6 570.7L331.6 570.4L332.6 570.1L333.6 569.9L334.6 569.6L335.6 569.3L336.6 569.1L337.6 568.8L338.6 568.5L339.6 568.2L340.6 568.0L341.6 567.7L342.6 567.4L343.6 567.1L344.6 566.9L345.6 566.6L346.6 566.3L347.6 566.0L348.6 565.8L349.6 565.5L350.6 565.2L351.6 564.9L352.6 564.7L353.6 564.4L354.6 564.1L355.6 563.8L356.6 563.6L357.6 563.3L358.6 563.0L359.6 562.7L360.6 562.5L361.6 562.2L362.6 561.9L363.6 561.7L364.6 561.4L365.6 561.1L366.6 560.9L367.6 560.6L368.6 560.3L369.6 560.1L370.6 559.8L371.6 559.6L372.6 559.3L373.6 559.0L374.6 558.8L375.6 558.5L376.6 558.3L377.6 558.0L378.6 557.8L379.6 557.5L380.6 557.3L381.6 557.0L382.6 556.8L383.6 556.6L384.6 556.3L385.6 556.1L386.6 555.9L387.6 555.6L388.6 555.4L389.6 555.2L390.6 554.9L391.6 554.7L392.6 554.5L393.6 554.3L394.6 554.1L395.6 553.8L396.6 553.6L397.6 553.4L398.6 553.2L399.6 553.0L400.6 552.7L401.6 552.5L402.6 552.3L403.6 552.1L404.6 551.9L405.6 551.7L406.6 551.5L407.6 551.2L408.6 551.0L409.6 550.8L410.6 550.6L411.6 550.4L412.6 550.2L413.6 549.9L414.6 549.7L415.6 549.5L416.6 549.3L417.6 549.1L418.6 548.8L419.6 548.6L420.6 548.4L421.6 548.2L422.6 547.9L423.6 547.7L424.6 547.5L425.6 547.2L426.6 547.0L427.6 546.8L428.6 546.5L429.6 546.3L430.6 546.0L431.6 545.8L432.6 545.5L433.6 545.3L434.6 545.0L435.6 544.8L436.6 544.5L437.6 544.2L438.6 544.0L439.6 543.7L440.6 543.4L441.6 543.1L442.6 542.9L443.6 542.6L444.6 542.3L444.9 542.2" stroke="#F08228"/>
<path d="M111.6 585.9L112.6 585.9L113.6 585.8L114.6 585.8L115.6 585.8L116.6 585.8L117.6 585.7L118.6 585.7L119.6 585.6L120.6 585.6L121.6 585.6L122.6 585.5L123.6 585.5L124.6 585.4L125.6 585.4L126.6 585.3L127.6 585.3L128.6 585.2L129.6 585.1L130.6 585.1L131.6 585.0L132.6 585.0L133.6 584.9L134.6 584.8L135.6 584.8L136.6 584.7L137.6 584.7L138.6 584.6L139.6 584.5L140.6 584.5L141.6 584.4L142.6 584.3L143.6 584.3L144.6 584.2L145.6 584.1L146.6 584.1L147.6 584.0L148.6 584.0L149.6 583.9L150.6 583.8L151.6 583.8L152.6 583.7L153.6 583.7L154.6 583.6L155.6 583.6L156.6 583.5L157.6 583.5L158.6 583.4L159.6 583.4L160.6 583.3L161.6 583.3L162.6 583.2L163.6 583.2L164.6 583.2L165.6 583.1L166.6 583.1L167.6 583.1L168.6 583.0L169.6 583.0L170.6 583.0L171.6 583.0L172.6 583.0L173.6 583.0L174.6 583.0L175.6 583.0L176.6 583.0L177.6 583.0L178.6 583.0L179.6 583.0L180.6 583.0L181.6 583.0L182.6 583.1L183.6 583.1L184.6 583.1L185.6 583.2L186.6 583.2L187.6 583.2L188.6 583.3L189.6 583.3L190.6 583.4L191.6 583.5L192.6 583.5L193.6 583.6L194.6 583.7L195.6 583.7L196.6 583.8L197.6 583.9L198.6 584.0L199.6 584.1L200.6 584.1L201.6 584.2L202.6 584.3L203.6 584.4L204.6 584.5L205.6 584.6L206.6 584.7L207.6 584.8L208.6 585.0L209.6 585.1L210.6 585.2L211.6 585.3L212.6 585.4L213.6 585.5L214.6 585.6L215.6 585.8L216.6 585.9L217.6 586.0L218.6 586.1L219.6 586.2L220.6 586.3L221.6 586.4L222.6 586.6L223.6 586.7L224.6 586.8L225.6 586.9L226.6 587.0L227.6 587.1L228.6 587.2L229.6 587.3L230.6 587.4L231.6 587.5L232.6 587.6L233.6 587.7L234.6 587.8L235.6 587.8L236.6 587.9L237.6 588.0L238.6 588.1L239.6 588.1L240.6 588.2L241.6 588.2L242.6 588.3L243.6 588.3L244.6 588.4L245.6 588.4L246.6 588.4L247.6 588.5L248.6 588.5L249.6 588.5L250.6 588.5L251.6 588.5L252.6 588.5L253.6 588.5L254.6 588.5L255.6 588.5L256.6 588.4L257.6 588.4L258.6 588.4L259.6 588.3L260.6 588.3L261.6 588.2L262.6 588.1L263.6 588.1L264.6 588.0L265.6 587.9L266.6 587.8L267.6 587.7L268.6 587.6L269.6 587.5L270.6 587.4L271.6 587.3L272.6 587.1L273.6 587.0L274.6 586.9L275.6 586.7L276.6 586.6L277.6 586.4L278.6 586.3L279.6 586.1L280.6 585.9L281.6 585.8L282.6 585.6L283.6 585.4L284.6 585.2L285.6 585.0L286.6 584.8L287.6 584.6L288.6 584.4L289.6 584.2L290.6 584.0L291.6 583.8L292.6 583.6L293.6 583.4L294.6 583.1L295.6 582.9L296.6 582.7L297.6 582.4L298.6 582.2L299.6 582.0L300.6 581.7L301.6 581.5L302.6 581.2L303.6 581.0L304.6 580.7L305.6 580.5L306.6 580.2L307.6 580.0L308.6 579.7L309.6 579.4L310.6 579.2L311.6 578.9L312.6 578.6L313.6 578.4L314.6 578.1L315.6 577.8L316.6 577.5L317.6 577.3L318.6 577.0L319.6 576.7L320.6 576.4L321.6 576.1L322.6 575.9L323.6 575.6L324.6 575.3L325.6 575.0L326.6 574.7L327.6 574.4L328.6 574.1L329.6 573.8L330.6 573.5L331.6 573.2L332.6 572.9L333.6 572.6L334.6 572.4L335.6 572.1L336.6 571.8L337.6 571.5L338.6 571.2L339.6 570.9L340.6 570.6L341.6 570.3L342.6 570.0L343.6 569.7L344.6 569.4L345.6 569.1L346.6 568.8L347.6 568.5L348.6 568.2L349.6 567.9L350.6 567.6L351.6 567.3L352.6 567.0L353.6 566.7L354.6 566.4L355.6 566.1L356.6 565.8L357.6 565.5L358.6 565.2L359.6 565.0L360.6 564.7L361.6 564.4L362.6 564.1L363.6 563.8L364.6 563.5L365.6 563.2L366.6 563.0L367.6 562.7L368.6 562.4L369.6 562.1L370.6 561.9L371.6 561.6L372.6 561.3L373.6 561.1L374.6 560.8L375.6 560.5L376.6 560.3L377.4 560.1" stroke="#E8202D"/>
<path d="M111.6 616.3L112.6 616.3L113.6 616.3L114.6 616.3L115.6 616.4L116.6 616.4L117.6 616.4L118.6 616.5L119.6 616.5L120.6 616.5L121.6 616.6L122.6 616.6L123.6 616.6L124.6 616.7L125.6 616.7L126.6 616.7L127.6 616.8L128.6 616.8L129.6 616.9L130.6 616.9L131.6 616.9L132.6 617.0L133.6 617.0L134.6 617.1L135.6 617.1L136.6 617.2L137.6 617.2L138.6 617.2L139.6 617.3L140.6 617.3L141.6 617.4L142.6 617.4L143.6 617.5L144.6 617.5L145.6 617.5L146.6 617.6L147.6 617.6L148.6 617.7L149.6 617.7L150.6 617.7L151.6 617.8L152.6 617.8L153.6 617.8L154.6 617.9L155.6 617.9L156.6 617.9L157.6 618.0L158.6 618.0L159.6 618.0L160.6 618.1L161.6 618.1L162.6 618.1L163.6 618.1L164.6 618.2L165.6 618.2L166.6 618.2L167.6 618.2L168.6 618.2L169.6 618.3L170.6 618.3L171.6 618.3L172.6 618.3L173.6 618.3L174.6 618.3L175.6 618.3L176.6 618.3L177.6 618.3L178.6 618.3L179.6 618.3L180.6 618.3L181.6 618.3L182.6 618.2L183.6 618.2L184.6 618.2L185.6 618.2L186.6 618.2L187.6 618.1L188.6 618.1L189.6 618.1L190.6 618.0L191.6 618.0L192.6 617.9L193.6 617.9L194.6 617.8L195.6 617.8L196.6 617.7L197.6 617.7L198.6 617.6L199.6 617.5L200.6 617.5L201.6 617.4L202.6 617.3L203.6 617.2L204.6 617.1L205.6 617.0L206.6 616.9L207.6 616.8L208.6 616.7L209.6 616.6L210.6 616.5L211.6 616.4L212.6 616.3L213.6 616.2L214.6 616.0L215.6 615.9L216.6 615.8L217.6 615.6L218.6 615.5L219.6 615.3L220.6 615.1L221.6 615.0L222.6 614.8L223.6 614.6L224.6 614.5L225.6 614.3L226.6 614.1L227.6 613.9L228.6 613.7L229.6 613.5L230.6 613.3L231.6 613.1L232.6 612.8L233.6 612.6L234.6 612.4L235.6 612.1L236.6 611.9L237.6 611.6L238.6 611.4L239.6 611.1L240.6 610.9L241.6 610.6L242.6 610.3L243.6 610.1L244.6 609.8L245.6 609.5L246.6 609.2L247.6 608.9L248.6 608.6L249.6 608.3L250.6 608.0L251.6 607.7L252.6 607.4L253.6 607.1L254.6 606.7L255.6 606.4L256.6 606.1L257.6 605.8L258.6 605.4L259.6 605.1L260.6 604.7L261.6 604.4L262.6 604.1L263.6 603.7L264.6 603.3L265.6 603.0L266.6 602.6L267.6 602.3L268.6 601.9L269.6 601.5L270.6 601.2L271.6 600.8L272.6 600.4L273.6 600.0L274.6 599.6L275.6 599.3L276.6 598.9L277.6 598.5L278.6 598.1L279.6 597.7L280.6 597.3L281.6 596.9L282.6 596.5L283.6 596.1L284.6 595.7L285.6 595.3L286.6 594.9L287.6 594.5L288.6 594.1L289.6 593.7L290.6 593.3L291.6 592.9L292.6 592.5L293.6 592.1L294.6 591.6L295.6 591.2L296.6 590.8L297.6 590.4L298.6 590.0L299.6 589.6L300.6 589.2L301.6 588.7L302.6 588.3L303.6 587.9L304.6 587.5L305.6 587.1L306.6 586.7L307.6 586.2L308.6 585.8L309.6 585.4L310.6 585.0L311.0 584.8" stroke="#238043"/>
<path d="M111.6 656.1L112.6 656.0L113.6 655.9L114.6 655.9L115.6 655.8L116.6 655.7L117.6 655.7L118.6 655.6L119.6 655.6L120.6 655.5L121.6 655.5L122.6 655.5L123.6 655.4L124.6 655.4L125.6 655.4L126.6 655.4L127.6 655.4L128.6 655.3L129.6 655.3L130.6 655.3L131.6 655.3L132.6 655.3L133.6 655.3L134.6 655.3L135.6 655.3L136.6 655.3L137.6 655.4L138.6 655.4L139.6 655.4L140.6 655.4L141.6 655.4L142.6 655.4L143.6 655.4L144.6 655.4L145.6 655.5L146.6 655.5L147.6 655.5L148.6 655.5L149.6 655.5L150.6 655.5L151.6 655.5L152.6 655.5L153.6 655.5L154.6 655.5L155.6 655.5L156.6 655.5L157.6 655.5L158.6 655.5L159.6 655.5L160.6 655.4L161.6 655.4L162.6 655.4L163.6 655.3L164.6 655.3L165.6 655.3L166.6 655.2L167.6 655.2L168.6 655.1L169.6 655.0L170.6 655.0L171.6 654.9L172.6 654.8L173.6 654.7L174.6 654.6L175.6 654.5L176.6 654.4L177.6 654.3L178.6 654.2L179.6 654.0L180.6 653.9L181.6 653.7L182.6 653.6L183.6 653.4L184.6 653.2L185.6 653.0L186.6 652.9L187.6 652.6L188.6 652.4L189.6 652.2L190.6 652.0L191.6 651.7L192.6 651.5L193.6 651.2L194.6 650.9L195.6 650.6L196.6 650.3L197.6 650.0L198.6 649.6L199.6 649.2L200.6 648.9L201.6 648.4L202.6 648.0L203.6 647.5L204.6 647.1L205.6 646.5L206.6 646.0L207.6 645.4L208.6 644.8L209.6 644.2L210.6 643.5L211.6 642.8L212.6 642.1L213.6 641.3L214.6 640.5L215.6 639.7L216.6 638.9L217.6 638.0L218.6 637.2L219.6 636.3L220.6 635.5L221.6 634.7L222.6 633.8L223.6 633.1L224.6 632.3L225.6 631.6L226.6 630.9L227.6 630.2L228.6 629.6L229.6 628.9L230.6 628.4L231.6 627.8L232.6 627.3L233.6 626.7L234.6 626.2L235.6 625.8L236.6 625.3L237.6 624.8L238.6 624.4L239.6 624.0L240.6 623.6L241.6 623.1L242.6 622.7L243.6 622.3L244.6 621.9L245.5 621.6" stroke="#A04BA8"/>
</g>
<rect x="111.6" y="519.1" width="341.1" height="167.8" fill="none" stroke="#000" stroke-width="2.2"/>
<path d="M105 686.9H111.6 M108 644.95H111.6 M105 603H111.6 M108 561.05H111.6 M105 519.1H111.6 M111.6 686.9V692.5 M145.71 686.9V690.3 M179.82 686.9V692.5 M213.93 686.9V690.3 M248.04 686.9V692.5 M282.15 686.9V690.3 M316.26 686.9V692.5 M350.37 686.9V690.3 M384.48 686.9V692.5 M418.59 686.9V690.3 M452.7 686.9V692.5" stroke="#000" stroke-width="2" fill="none"/>
<g font-family="'Liberation Sans', Arial, sans-serif" font-size="16" text-anchor="end" fill="#000">
<text x="102.2" y="690.7" font-size="15.4">40</text>
<text x="102.2" y="606.8" font-size="15.4">60</text>
<text x="102.2" y="522.9" font-size="15.4">80</text>
</g>
<rect x="114.5" y="532" width="11.8" height="16" fill="#fff"/>
<text x="115.2" y="545.8" fill="#F08228" font-family="'Noto Sans CJK SC', 'Liberation Sans', sans-serif" font-size="16">A</text>
<rect x="115.5" y="566" width="10.8" height="15" fill="#fff"/>
<text x="116.6" y="578.9" fill="#E8202D" font-family="'Noto Sans CJK SC', 'Liberation Sans', sans-serif" font-size="16">B</text>
<rect x="115.5" y="596" width="10.8" height="15" fill="#fff"/>
<text x="116.1" y="608.9" fill="#238043" font-family="'Noto Sans CJK SC', 'Liberation Sans', sans-serif" font-size="16">C</text>
<rect x="115.5" y="636" width="12.5" height="15" fill="#fff"/>
<text x="116.3" y="648.8" fill="#D17FD0" font-family="'Noto Sans CJK SC', 'Liberation Sans', sans-serif" font-size="16">D</text>
<text transform="translate(71.3 640.3) rotate(-90)" font-family="'Liberation Sans', Arial, sans-serif" font-size="16" font-weight="bold" fill="#000">L<tspan font-size="10.5" dy="5.8">P</tspan><tspan dy="-5.8">[dB(A)]</tspan></text>
<g font-family="'Liberation Sans', Arial, sans-serif" font-size="16" text-anchor="middle" fill="#000">
<text x="111.6" y="708.6">0</text>
<text x="179.82" y="708.6">250</text>
<text x="248.04" y="708.6">500</text>
<text x="316.26" y="708.6">750</text>
<text x="384.48" y="708.6">1000</text>
<text x="452.7" y="708.6">1250</text>
</g>
<text x="481" y="707.9" font-family="'Liberation Sans', Arial, sans-serif" font-size="15" font-weight="bold" fill="#000">[m<tspan font-size="14.5" dy="-9.8">3</tspan><tspan dy="9.8">/h]</tspan></text>
<path d="M111.6 726.6H452.7 M111.6 726.6V731.6 M145.71 726.6V729.6 M179.82 726.6V731.6 M213.93 726.6V729.6 M248.04 726.6V731.6 M282.15 726.6V729.6 M316.26 726.6V731.6 M350.37 726.6V729.6 M384.48 726.6V731.6 M418.59 726.6V729.6 M452.7 726.6V731.6" stroke="#1A50A8" stroke-width="2.2" fill="none"/>
<g font-family="'Liberation Sans', Arial, sans-serif" font-size="16" text-anchor="middle" fill="#2257AD">
<text x="111.6" y="750.8">0</text>
<text x="179.82" y="750.8">147</text>
<text x="248.04" y="750.8">294</text>
<text x="316.26" y="750.8">441</text>
<text x="384.48" y="750.8">588</text>
<text x="452.7" y="750.8">735</text>
</g>
<text x="481.3" y="749.7" font-family="'Liberation Sans', Arial, sans-serif" font-size="15" font-weight="bold" fill="#2257AD">[CFM]</text>
<rect x="494.5" y="519.4" width="65.2" height="88.1" fill="#fff" stroke="#1a1a1a" stroke-width="1.2"/>
<g font-family="'Liberation Sans', Arial, sans-serif" font-size="15">
<text x="497.3" y="538.4" fill="#F08228">A=100%</text>
<text x="497.3" y="557.1" fill="#E8202D">B=80%</text>
<text x="497.3" y="575.8" fill="#238043">C=60%</text>
<text x="497.3" y="594.5" fill="#A04BA8">D=40%</text>
</g>
<rect x="681" y="44.9" width="95.5" height="69.9" fill="#8BBAE2"/>
<rect x="776.5" y="45.9" width="240.5" height="68.9" fill="#8BBAE2"/>
<rect x="681" y="114.8" width="336" height="35.6" fill="#fff"/>
<rect x="681" y="150.4" width="336" height="35.6" fill="#fff"/>
<rect x="681" y="186" width="336" height="35.6" fill="#fff"/>
<rect x="681" y="221.6" width="336" height="35.6" fill="#D1D2D3"/>
<rect x="681" y="257.2" width="336" height="35.6" fill="#D1D2D3"/>
<rect x="681" y="292.8" width="336" height="35.6" fill="#D1D2D3"/>
<rect x="681" y="328.4" width="336" height="35.6" fill="#fff"/>
<rect x="681" y="364" width="336" height="35.6" fill="#fff"/>
<rect x="681" y="399.6" width="336" height="35.6" fill="#fff"/>
<rect x="681" y="435.2" width="336" height="35.6" fill="#D1D2D3"/>
<rect x="681" y="470.8" width="336" height="35.6" fill="#D1D2D3"/>
<rect x="681" y="506.4" width="336" height="35.6" fill="#D1D2D3"/>
<rect x="681" y="114.8" width="336" height="2.6" fill="#E3E4E6"/>
<rect x="681" y="150.4" width="336" height="2.6" fill="#E3E4E6"/>
<rect x="681" y="186" width="336" height="2.6" fill="#E3E4E6"/>
<rect x="681" y="221.6" width="336" height="2.6" fill="#E3E4E6"/>
<rect x="681" y="257.2" width="336" height="2.6" fill="#E3E4E6"/>
<rect x="681" y="292.8" width="336" height="2.6" fill="#E3E4E6"/>
<rect x="681" y="328.4" width="336" height="2.6" fill="#E3E4E6"/>
<rect x="681" y="364" width="336" height="2.6" fill="#E3E4E6"/>
<rect x="681" y="399.6" width="336" height="2.6" fill="#E3E4E6"/>
<rect x="681" y="435.2" width="336" height="2.6" fill="#E3E4E6"/>
<rect x="681" y="470.8" width="336" height="2.6" fill="#E3E4E6"/>
<rect x="681" y="506.4" width="336" height="2.6" fill="#E3E4E6"/>
<rect x="681" y="542" width="336" height="2.6" fill="#E3E4E6"/>
<rect x="777.7" y="91.3" width="239.3" height="2.9" fill="#E3E4E6"/>
<rect x="775.1" y="46" width="2.8" height="498.6" fill="#E3E4E6"/>
<rect x="899.9" y="46" width="2.8" height="498.6" fill="#E3E4E6"/>
<g font-family="'Noto Sans CJK SC', 'Liberation Sans', sans-serif" font-size="16" font-weight="350" fill="#1e1e1e" text-anchor="middle">
<text x="730" y="75" font-size="15.5">测试节点</text>
<text x="729.7" y="97.5" word-spacing="2.6" letter-spacing="-0.2">Test Point</text>
<text x="839.5" y="63.2" font-size="15.5">转 速</text>
<text x="839.5" y="86">Speed</text>
<text x="959" y="63.2" font-size="15.5">输入功率</text>
<text x="958.7" y="86" word-spacing="2.6">Input Power</text>
<text x="839.5" y="109.5">rpm</text>
<text x="959" y="109.5">W</text>
<text x="729.5" y="140.3" letter-spacing="0.9">1</text><text x="839.3" y="140.3" letter-spacing="0.9">3331</text><text x="959.5" y="140.3" letter-spacing="0.9">158</text>
<text x="729.5" y="175.9" letter-spacing="0.9">2</text><text x="839.3" y="175.9" letter-spacing="0.9">2818</text><text x="959.5" y="175.9" letter-spacing="0.9">140</text>
<text x="729.5" y="211.5" letter-spacing="0.9">3</text><text x="839.3" y="211.5" letter-spacing="0.9">2813</text><text x="959.5" y="211.5" letter-spacing="0.9">140</text>
<text x="729.5" y="247.1" letter-spacing="0.9">4</text><text x="839.3" y="247.1" letter-spacing="0.9">2661</text><text x="959.5" y="247.1" letter-spacing="0.9">88</text>
<text x="729.5" y="282.7" letter-spacing="0.9">5</text><text x="839.3" y="282.7" letter-spacing="0.9">2663</text><text x="959.5" y="282.7" letter-spacing="0.9">111</text>
<text x="729.5" y="318.3" letter-spacing="0.9">6</text><text x="839.3" y="318.3" letter-spacing="0.9">2660</text><text x="959.5" y="318.3" letter-spacing="0.9">122</text>
<text x="729.5" y="353.9" letter-spacing="0.9">7</text><text x="839.3" y="353.9" letter-spacing="0.9">1999</text><text x="959.5" y="353.9" letter-spacing="0.9">47</text>
<text x="729.5" y="389.5" letter-spacing="0.9">8</text><text x="839.3" y="389.5" letter-spacing="0.9">1997</text><text x="959.5" y="389.5" letter-spacing="0.9">53</text>
<text x="729.5" y="425.1" letter-spacing="0.9">9</text><text x="839.3" y="425.1" letter-spacing="0.9">1996</text><text x="959.5" y="425.1" letter-spacing="0.9">61</text>
<text x="729.5" y="460.7" letter-spacing="0.9">10</text><text x="839.3" y="460.7" letter-spacing="0.9">1327</text><text x="959.5" y="460.7" letter-spacing="0.9">24</text>
<text x="729.5" y="496.3" letter-spacing="0.9">11</text><text x="839.3" y="496.3" letter-spacing="0.9">1334</text><text x="959.5" y="496.3" letter-spacing="0.9">26</text>
<text x="729.5" y="531.9" letter-spacing="0.9">12</text><text x="839.3" y="531.9" letter-spacing="0.9">1331</text><text x="959.5" y="531.9" letter-spacing="0.9">28</text>
</g>
<g font-family="'Noto Sans CJK SC', 'Liberation Sans', sans-serif" font-weight="350" fill="#1a1a1a">
<text x="680.6" y="581.2" font-size="17.5" letter-spacing="0.3">Erp2015&#160; Data:</text>
<text x="681.5" y="609.4" font-size="15.5" letter-spacing="0.3">Efficiency&#160;η<tspan font-size="12" dy="4">statA</tspan><tspan dy="-4">=45.7%</tspan></text>
<text x="681.2" y="636.1" font-size="15.5" letter-spacing="0.1">Efficiency grade&#160; N<tspan font-size="11">actual</tspan>=65.2, N<tspan font-size="11">target</tspan>=62</text>
<text x="680.3" y="665.6" font-size="15.5" font-style="italic" letter-spacing="0.45" word-spacing="1">Test report No. : L-20210302 -005-103</text>
</g>
</svg>
</body></html>
